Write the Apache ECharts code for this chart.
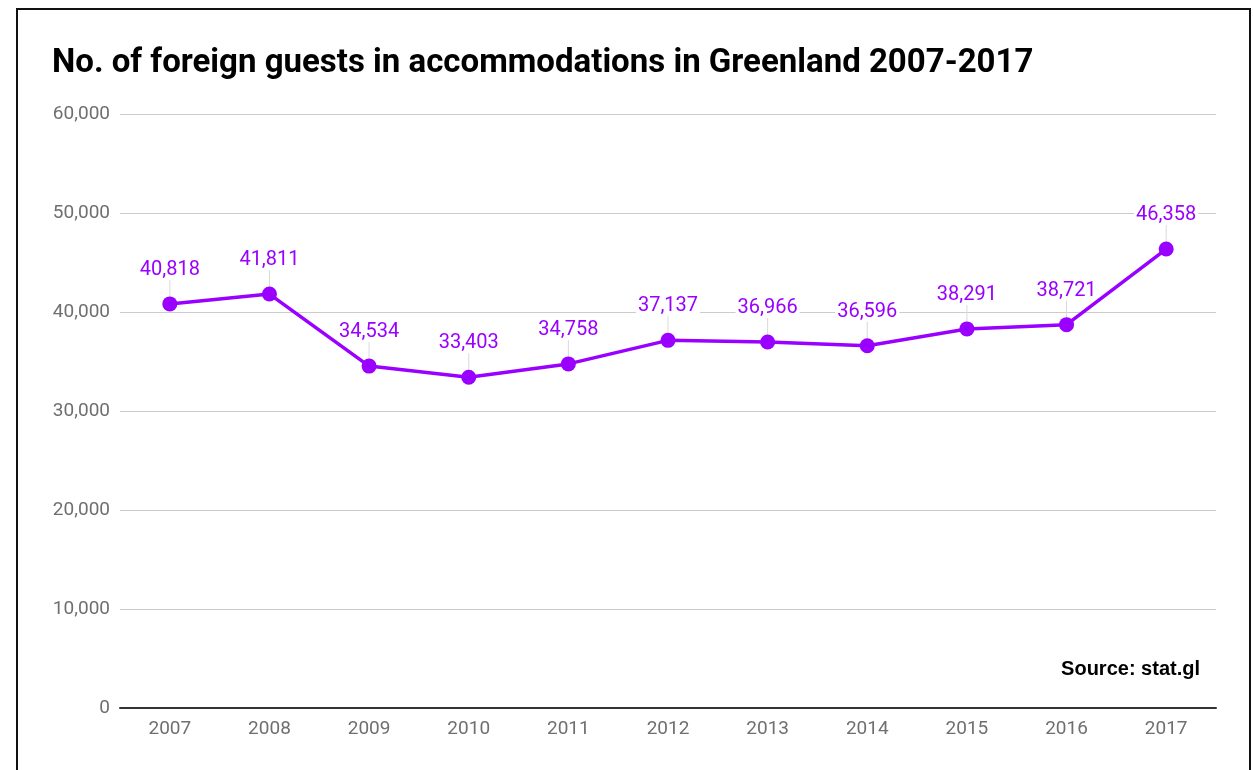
<!DOCTYPE html>
<html>
<head>
<meta charset="utf-8">
<script src="https://cdn.jsdelivr.net/npm/echarts@6/dist/echarts.min.js"></script>
<style>
  html, body { margin: 0; padding: 0; background: #fff; }
  #frame { position: absolute; left: 16px; top: 8px; width: 1235px; height: 800px; border: 2px solid #111; box-sizing: border-box; }
  #chart { position: absolute; left: 0; top: 0; width: 1253px; height: 770px; }
</style>
</head>
<body>
<div id="frame"></div>
<div id="chart"></div>
<script>
// Foreign guests staying in Greenland accommodations, by year
const years = ['2007', '2008', '2009', '2010', '2011', '2012', '2013', '2014', '2015', '2016', '2017'];
const guests = [40818, 41811, 34534, 33403, 34758, 37137, 36966, 36596, 38291, 38721, 46358];
const yTicks = [0, 10000, 20000, 30000, 40000, 50000, 60000];

const purple = '#9900ff';
const fmt = v => v.toLocaleString('en-US');

const chart = echarts.init(document.getElementById('chart'));
chart.setOption({
  backgroundColor: 'transparent',
  animation: false,
  title: {
    text: 'No. of foreign guests in accommodations in Greenland 2007-2017',
    left: 47, top: 42,
    textStyle: { fontFamily: 'Roboto', fontWeight: 'bold', fontSize: 33, color: '#000' }
  },
  graphic: [{
    type: 'text', right: 53, top: 659,
    style: { text: 'Source: stat.gl', font: 'bold 20px "Liberation Sans"', fill: '#000' }
  }],
  grid: { left: 120, right: 37, top: 114, bottom: 62 },
  xAxis: {
    type: 'category',
    data: years,
    boundaryGap: true,
    axisLine: { lineStyle: { color: '#333', width: 2 } },
    axisTick: { show: false },
    axisLabel: { color: '#6f6f6f', fontFamily: 'Roboto', fontSize: 19, margin: 12 }
  },
  yAxis: {
    type: 'value',
    min: yTicks[0], max: yTicks[yTicks.length - 1], interval: 10000,
    axisLine: { show: false },
    axisTick: { show: false },
    splitLine: { lineStyle: { color: '#cccccc', width: 1 } },
    axisLabel: { color: '#6f6f6f', fontFamily: 'Roboto', fontSize: 19, margin: 10, formatter: v => fmt(v) }
  },
  series: [
    {
      // value labels with thin leader lines, drawn beneath the data line
      type: 'custom',
      z: 3,
      silent: true,
      data: guests.map((v, i) => [i, v]),
      renderItem: function (params, api) {
        const p = api.coord([api.value(0), api.value(1)]);
        return {
          type: 'group',
          children: [
            {
              type: 'line',
              shape: { x1: p[0], y1: p[1], x2: p[0], y2: p[1] - 25 },
              style: { stroke: '#d9d9d9', lineWidth: 1 }
            },
            {
              type: 'text',
              x: p[0], y: p[1] - 34,
              style: {
                text: fmt(api.value(1)),
                fill: purple,
                font: '20px Roboto',
                align: 'center',
                verticalAlign: 'middle',
                backgroundColor: '#fff',
                padding: [0, 2]
              }
            }
          ]
        };
      }
    },
    {
      type: 'line',
      z: 4,
      data: guests,
      symbol: 'circle',
      symbolSize: 15,
      lineStyle: { color: purple, width: 3.5 },
      itemStyle: { color: purple }
    }
  ]
});
</script>
</body>
</html>
